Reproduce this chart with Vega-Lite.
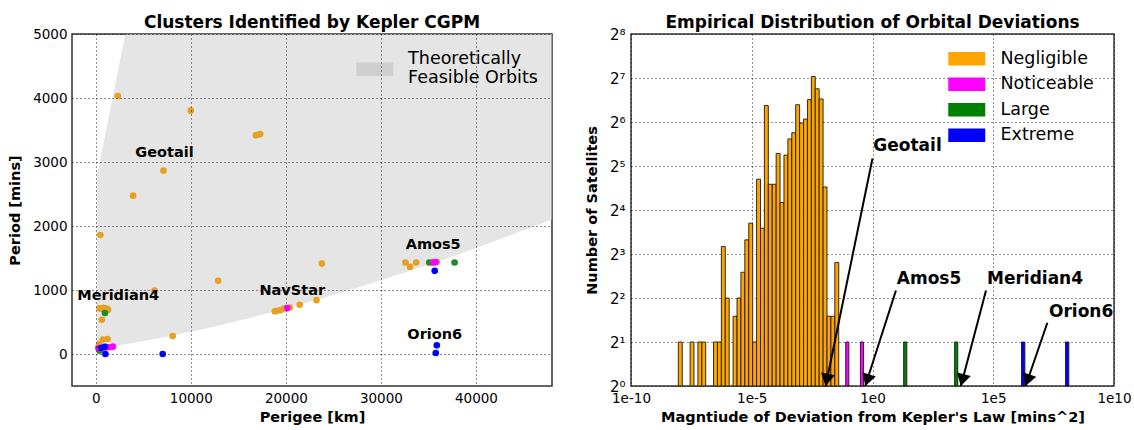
{
  "$schema": "https://vega.github.io/schema/vega-lite/v6.json",
  "padding": {"left": 6, "top": 13, "right": 4, "bottom": 4},
  "spacing": 30,
  "resolve": {"scale": {"color": "independent", "fill": "independent"}, "legend": {"color": "independent", "fill": "independent"}},
  "config": {
    "font": "DejaVu Sans",
    "view": {"stroke": "#333", "strokeWidth": 1.5},
    "axis": {
      "grid": true, "gridColor": "#000", "gridDash": [1, 3], "gridOpacity": 0.85, "gridWidth": 1,
      "domain": false, "ticks": false, "labelFlush": false,
      "labelFont": "DejaVu Sans", "labelFontSize": 13.5, "labelColor": "#000", "labelPadding": 5,
      "titleFont": "DejaVu Sans", "titleFontSize": 14.5, "titleFontWeight": "bold", "titleColor": "#000"
    },
    "axisX": {"titlePadding": 6},
    "axisY": {"titlePadding": 10},
    "title": {"font": "DejaVu Sans", "fontSize": 17, "fontWeight": "bold", "color": "#000", "offset": -5, "frame": "group"},
    "legend": {"labelFont": "DejaVu Sans", "labelFontSize": 17.5, "labelColor": "#000", "title": null}
  },
  "datasets": {
    "feasible": [
      {"perigee": 100, "lower": 86.5, "upper": 2766},
      {"perigee": 415, "lower": 92.9, "upper": 3000},
      {"perigee": 1000, "lower": 105.1, "upper": 3434},
      {"perigee": 2000, "lower": 127.2, "upper": 4176},
      {"perigee": 3110, "lower": 153.3, "upper": 5000},
      {"perigee": 4000, "lower": 175.4, "upper": 5000},
      {"perigee": 6000, "lower": 228.4, "upper": 5000},
      {"perigee": 8000, "lower": 286.0, "upper": 5000},
      {"perigee": 10000, "lower": 347.7, "upper": 5000},
      {"perigee": 12500, "lower": 430.2, "upper": 5000},
      {"perigee": 15000, "lower": 518.5, "upper": 5000},
      {"perigee": 17500, "lower": 612.0, "upper": 5000},
      {"perigee": 20000, "lower": 710.6, "upper": 5000},
      {"perigee": 22500, "lower": 814.0, "upper": 5000},
      {"perigee": 25000, "lower": 922.0, "upper": 5000},
      {"perigee": 27500, "lower": 1034.3, "upper": 5000},
      {"perigee": 30000, "lower": 1150.9, "upper": 5000},
      {"perigee": 32500, "lower": 1271.5, "upper": 5000},
      {"perigee": 35000, "lower": 1396.2, "upper": 5000},
      {"perigee": 37500, "lower": 1524.5, "upper": 5000},
      {"perigee": 40000, "lower": 1656.7, "upper": 5000},
      {"perigee": 42500, "lower": 1792.4, "upper": 5000},
      {"perigee": 45000, "lower": 1931.7, "upper": 5000},
      {"perigee": 48000, "lower": 2103.3, "upper": 5000}
    ],
    "sats": [
      {"cls": "Negligible", "perigee": 2320, "period": 4031},
      {"cls": "Negligible", "perigee": 10000, "period": 3802},
      {"cls": "Negligible", "perigee": 16850, "period": 3417},
      {"cls": "Negligible", "perigee": 17100, "period": 3425},
      {"cls": "Negligible", "perigee": 17300, "period": 3437},
      {"cls": "Negligible", "perigee": 7120, "period": 2865},
      {"cls": "Negligible", "perigee": 3930, "period": 2474},
      {"cls": "Negligible", "perigee": 490, "period": 1860},
      {"cls": "Negligible", "perigee": 6180, "period": 990},
      {"cls": "Negligible", "perigee": 12880, "period": 1143},
      {"cls": "Negligible", "perigee": 23780, "period": 1413},
      {"cls": "Negligible", "perigee": 8090, "period": 281},
      {"cls": "Negligible", "perigee": 400, "period": 715},
      {"cls": "Negligible", "perigee": 600, "period": 705},
      {"cls": "Negligible", "perigee": 800, "period": 720},
      {"cls": "Negligible", "perigee": 1000, "period": 710},
      {"cls": "Negligible", "perigee": 1200, "period": 705},
      {"cls": "Negligible", "perigee": 1300, "period": 690},
      {"cls": "Negligible", "perigee": 640, "period": 535},
      {"cls": "Negligible", "perigee": 750, "period": 225},
      {"cls": "Negligible", "perigee": 1240, "period": 235},
      {"cls": "Negligible", "perigee": 370, "period": 155},
      {"cls": "Negligible", "perigee": 250, "period": 100},
      {"cls": "Negligible", "perigee": 500, "period": 110},
      {"cls": "Negligible", "perigee": 18840, "period": 665},
      {"cls": "Negligible", "perigee": 19100, "period": 675},
      {"cls": "Negligible", "perigee": 19480, "period": 686},
      {"cls": "Negligible", "perigee": 19850, "period": 712},
      {"cls": "Negligible", "perigee": 20410, "period": 727},
      {"cls": "Negligible", "perigee": 21460, "period": 769},
      {"cls": "Negligible", "perigee": 23220, "period": 841},
      {"cls": "Negligible", "perigee": 32580, "period": 1429},
      {"cls": "Negligible", "perigee": 33070, "period": 1361},
      {"cls": "Negligible", "perigee": 33710, "period": 1429},
      {"cls": "Negligible", "perigee": 35390, "period": 1429},
      {"cls": "Negligible", "perigee": 35880, "period": 1439},
      {"cls": "Negligible", "perigee": 35600, "period": 1436},
      {"cls": "Large", "perigee": 970, "period": 640},
      {"cls": "Large", "perigee": 410, "period": 52},
      {"cls": "Large", "perigee": 35090, "period": 1429},
      {"cls": "Large", "perigee": 37750, "period": 1429},
      {"cls": "Noticeable", "perigee": 300, "period": 90},
      {"cls": "Noticeable", "perigee": 600, "period": 95},
      {"cls": "Noticeable", "perigee": 1000, "period": 100},
      {"cls": "Noticeable", "perigee": 1400, "period": 105},
      {"cls": "Noticeable", "perigee": 1800, "period": 115},
      {"cls": "Noticeable", "perigee": 20150, "period": 717},
      {"cls": "Noticeable", "perigee": 35500, "period": 1429},
      {"cls": "Noticeable", "perigee": 35750, "period": 1435},
      {"cls": "Extreme", "perigee": 560, "period": 94},
      {"cls": "Extreme", "perigee": 970, "period": 114},
      {"cls": "Extreme", "perigee": 1010, "period": 0},
      {"cls": "Extreme", "perigee": 7040, "period": 0},
      {"cls": "Extreme", "perigee": 35660, "period": 1299},
      {"cls": "Extreme", "perigee": 35880, "period": 135},
      {"cls": "Extreme", "perigee": 35770, "period": 16}
    ],
    "satlabels": [
      {"name": "Geotail", "perigee": 7230, "period": 3140},
      {"name": "Meridian4", "perigee": 2360, "period": 910},
      {"name": "NavStar", "perigee": 20670, "period": 990},
      {"name": "Amos5", "perigee": 35500, "period": 1700},
      {"name": "Orion6", "perigee": 35660, "period": 300}
    ],
    "hist": [
      {"cls": "Negligible", "lo": -8.04, "hi": -7.878, "count": 2},
      {"cls": "Negligible", "lo": -7.554, "hi": -7.392, "count": 2},
      {"cls": "Negligible", "lo": -7.23, "hi": -7.068, "count": 2},
      {"cls": "Negligible", "lo": -7.068, "hi": -6.906, "count": 2},
      {"cls": "Negligible", "lo": -6.582, "hi": -6.42, "count": 2},
      {"cls": "Negligible", "lo": -6.42, "hi": -6.258, "count": 2},
      {"cls": "Negligible", "lo": -6.258, "hi": -6.096, "count": 9},
      {"cls": "Negligible", "lo": -6.096, "hi": -5.934, "count": 4},
      {"cls": "Negligible", "lo": -5.772, "hi": -5.61, "count": 3},
      {"cls": "Negligible", "lo": -5.61, "hi": -5.448, "count": 4},
      {"cls": "Negligible", "lo": -5.448, "hi": -5.286, "count": 6},
      {"cls": "Negligible", "lo": -5.286, "hi": -5.124, "count": 10},
      {"cls": "Negligible", "lo": -5.124, "hi": -4.962, "count": 13},
      {"cls": "Negligible", "lo": -4.962, "hi": -4.8, "count": 2},
      {"cls": "Negligible", "lo": -4.8, "hi": -4.638, "count": 26},
      {"cls": "Negligible", "lo": -4.638, "hi": -4.476, "count": 12},
      {"cls": "Negligible", "lo": -4.476, "hi": -4.314, "count": 83},
      {"cls": "Negligible", "lo": -4.314, "hi": -4.152, "count": 24},
      {"cls": "Negligible", "lo": -4.152, "hi": -3.99, "count": 24},
      {"cls": "Negligible", "lo": -3.99, "hi": -3.828, "count": 39},
      {"cls": "Negligible", "lo": -3.828, "hi": -3.666, "count": 18},
      {"cls": "Negligible", "lo": -3.666, "hi": -3.504, "count": 38},
      {"cls": "Negligible", "lo": -3.504, "hi": -3.342, "count": 49},
      {"cls": "Negligible", "lo": -3.342, "hi": -3.18, "count": 54},
      {"cls": "Negligible", "lo": -3.18, "hi": -3.018, "count": 84},
      {"cls": "Negligible", "lo": -3.018, "hi": -2.856, "count": 63},
      {"cls": "Negligible", "lo": -2.856, "hi": -2.694, "count": 67},
      {"cls": "Negligible", "lo": -2.694, "hi": -2.532, "count": 91},
      {"cls": "Negligible", "lo": -2.532, "hi": -2.37, "count": 131},
      {"cls": "Negligible", "lo": -2.37, "hi": -2.208, "count": 108},
      {"cls": "Negligible", "lo": -2.208, "hi": -2.046, "count": 92},
      {"cls": "Negligible", "lo": -2.046, "hi": -1.884, "count": 23},
      {"cls": "Negligible", "lo": -1.884, "hi": -1.722, "count": 3},
      {"cls": "Negligible", "lo": -1.722, "hi": -1.56, "count": 3},
      {"cls": "Negligible", "lo": -1.56, "hi": -1.398, "count": 7},
      {"cls": "Noticeable", "lo": -1.11, "hi": -0.98, "count": 2},
      {"cls": "Noticeable", "lo": -0.5, "hi": -0.37, "count": 2},
      {"cls": "Large", "lo": 1.29, "hi": 1.42, "count": 2},
      {"cls": "Large", "lo": 3.4, "hi": 3.53, "count": 2},
      {"cls": "Extreme", "lo": 6.17, "hi": 6.31, "count": 2},
      {"cls": "Extreme", "lo": 7.99, "hi": 8.13, "count": 2}
    ],
    "arrows": [
      {"name": "Geotail", "tx": 1.45, "ty": 44, "x1": 0.0, "y1": 36, "x2": -1.94, "y2": 1, "hx": -1.894, "hy": 1.1},
      {"name": "Amos5", "tx": 2.34, "ty": 5.4, "x1": 0.97, "y1": 4.5, "x2": -0.3, "y2": 1, "hx": -0.22, "hy": 1.095},
      {"name": "Meridian4", "tx": 6.73, "ty": 5.4, "x1": 4.7, "y1": 4.5, "x2": 3.66, "y2": 1, "hx": 3.72, "hy": 1.097},
      {"name": "Orion6", "tx": 8.64, "ty": 3.23, "x1": 7.24, "y1": 2.71, "x2": 6.34, "y2": 1, "hx": 6.42, "hy": 1.095}
    ]
  },
  "hconcat": [
    {
      "width": 480,
      "height": 352,
      "title": "Clusters Identified by Kepler CGPM",
      "layer": [
        {
          "data": {"name": "feasible"},
          "mark": {"type": "area", "orient": "vertical", "opacity": 0.55, "clip": true},
          "encoding": {
            "x": {"field": "perigee", "type": "quantitative", "title": "Perigee [km]",
                  "scale": {"domain": [-2500, 48000], "nice": false, "zero": false},
                  "axis": {"values": [0, 10000, 20000, 30000, 40000], "format": "d", "zindex": 1}},
            "y": {"field": "lower", "type": "quantitative", "title": "Period [mins]",
                  "scale": {"domain": [-500, 5000], "nice": false, "zero": false},
                  "axis": {"values": [0, 1000, 2000, 3000, 4000, 5000], "format": "d", "zindex": 1}},
            "y2": {"field": "upper"},
            "fill": {"datum": "Theoretically Feasible Orbits", "type": "nominal",
                     "scale": {"range": ["#CFCFCF"]},
                     "legend": {"orient": "none", "legendX": 294, "legendY": 16,
                                "symbolType": "M-2.5,0.52H2.5V2.32H-2.5Z", "symbolSize": 219,
                                "symbolOpacity": 1, "symbolStrokeWidth": 0, "labelOffset": 24.6,
                                "labelLimit": 300, "labelExpr": "['Theoretically', 'Feasible Orbits']"}}
          }
        },
        {
          "data": {"name": "sats"},
          "mark": {"type": "circle", "size": 44, "opacity": 1},
          "encoding": {
            "x": {"field": "perigee", "type": "quantitative", "title": "Perigee [km]"},
            "y": {"field": "period", "type": "quantitative", "title": "Period [mins]"},
            "color": {"field": "cls", "type": "nominal",
                      "scale": {"domain": ["Negligible", "Noticeable", "Large", "Extreme"],
                                "range": ["#E8A022", "#FF00FF", "#1E8C1E", "#0000FF"]},
                      "legend": null}
          }
        },
        {
          "data": {"name": "satlabels"},
          "mark": {"type": "text", "fontWeight": "bold", "fontSize": 14.5, "color": "#000", "align": "center", "baseline": "middle"},
          "encoding": {
            "x": {"field": "perigee", "type": "quantitative", "title": "Perigee [km]"},
            "y": {"field": "period", "type": "quantitative", "title": "Period [mins]"},
            "text": {"field": "name"}
          }
        }
      ]
    },
    {
      "width": 483,
      "height": 352,
      "title": "Empirical Distribution of Orbital Deviations",
      "layer": [
        {
          "data": {"name": "hist"},
          "mark": {"type": "rect", "stroke": "#1a1a1a", "strokeWidth": 0.9},
          "encoding": {
            "x": {"field": "lo", "type": "quantitative", "title": "Magntiude of Deviation from Kepler's Law [mins^2]",
                  "scale": {"domain": [-10, 10], "nice": false, "zero": false},
                  "axis": {"values": [-10, -5, 0, 5, 10], "labelExpr": "'1e' + datum.value"}},
            "x2": {"field": "hi"},
            "y": {"field": "count", "type": "quantitative", "title": "Number of Satellites",
                  "scale": {"type": "log", "base": 2, "domain": [1, 256], "nice": false},
                  "axis": {"values": [1, 2, 4, 8, 16, 32, 64, 128, 256], "labelFontSize": 15, "labelPadding": 6,
                           "labelExpr": "'2' + ['⁰','¹','²','³','⁴','⁵','⁶','⁷','⁸'][round(log(datum.value)/LN2)]"}},
            "y2": {"datum": 1},
            "color": {"field": "cls", "type": "nominal",
                      "scale": {"domain": ["Negligible", "Noticeable", "Large", "Extreme"],
                                "range": ["#FFA500", "#FF00FF", "#008000", "#0000FF"]},
                      "legend": {"orient": "none", "legendX": 327, "legendY": 16,
                                 "symbolType": "M-2.5,-0.9H2.5V0.9H-2.5Z", "symbolSize": 219,
                                 "symbolStrokeWidth": 0, "labelOffset": 25, "rowPadding": 6.5}}
          }
        },
        {
          "data": {"name": "arrows"},
          "mark": {"type": "rule", "color": "#000", "strokeWidth": 2},
          "encoding": {
            "x": {"field": "x1", "type": "quantitative", "title": "Magntiude of Deviation from Kepler's Law [mins^2]"},
            "y": {"field": "y1", "type": "quantitative", "title": "Number of Satellites"},
            "x2": {"field": "x2"},
            "y2": {"field": "y2"}
          }
        },
        {
          "data": {"name": "arrows"},
          "transform": [{"filter": "datum.name === 'Geotail'"}],
          "mark": {"type": "point", "shape": "triangle-down", "filled": true, "color": "#000", "opacity": 1, "size": 200, "angle": 11.6},
          "encoding": {
            "x": {"field": "hx", "type": "quantitative", "title": "Magntiude of Deviation from Kepler's Law [mins^2]"},
            "y": {"field": "hy", "type": "quantitative", "title": "Number of Satellites"}
          }
        },
        {
          "data": {"name": "arrows"},
          "transform": [{"filter": "datum.name === 'Amos5'"}],
          "mark": {"type": "point", "shape": "triangle-down", "filled": true, "color": "#000", "opacity": 1, "size": 200, "angle": 17.8},
          "encoding": {
            "x": {"field": "hx", "type": "quantitative", "title": "Magntiude of Deviation from Kepler's Law [mins^2]"},
            "y": {"field": "hy", "type": "quantitative", "title": "Number of Satellites"}
          }
        },
        {
          "data": {"name": "arrows"},
          "transform": [{"filter": "datum.name === 'Meridian4'"}],
          "mark": {"type": "point", "shape": "triangle-down", "filled": true, "color": "#000", "opacity": 1, "size": 200, "angle": 14.7},
          "encoding": {
            "x": {"field": "hx", "type": "quantitative", "title": "Magntiude of Deviation from Kepler's Law [mins^2]"},
            "y": {"field": "hy", "type": "quantitative", "title": "Number of Satellites"}
          }
        },
        {
          "data": {"name": "arrows"},
          "transform": [{"filter": "datum.name === 'Orion6'"}],
          "mark": {"type": "point", "shape": "triangle-down", "filled": true, "color": "#000", "opacity": 1, "size": 200, "angle": 18.9},
          "encoding": {
            "x": {"field": "hx", "type": "quantitative", "title": "Magntiude of Deviation from Kepler's Law [mins^2]"},
            "y": {"field": "hy", "type": "quantitative", "title": "Number of Satellites"}
          }
        },
        {
          "data": {"name": "arrows"},
          "mark": {"type": "text", "fontWeight": "bold", "fontSize": 17, "color": "#000", "align": "center", "baseline": "middle"},
          "encoding": {
            "x": {"field": "tx", "type": "quantitative", "title": "Magntiude of Deviation from Kepler's Law [mins^2]"},
            "y": {"field": "ty", "type": "quantitative", "title": "Number of Satellites"},
            "text": {"field": "name"}
          }
        }
      ]
    }
  ]
}
